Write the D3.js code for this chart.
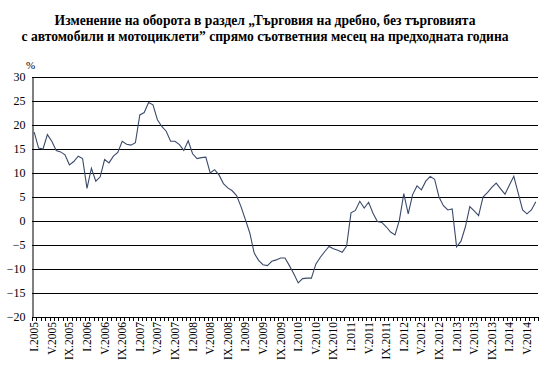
<!DOCTYPE html>
<html>
<head>
<meta charset="utf-8">
<script src="https://cdn.jsdelivr.net/npm/d3@7"></script>
<style>
  body { margin: 0; background: #fff; }
  text { font-family: "Liberation Serif", "Times New Roman", serif; }
</style>
</head>
<body>
<div id="graph"></div>
<script>
var titleLines = [
    "Изменение на оборота в раздел „Търговия на дребно, без търговията",
    "с автомобили и мотоциклети” спрямо съответния месец на предходната година"
];

var romanMonths = ["I", "II", "III", "IV", "V", "VI", "VII", "VIII", "IX", "X", "XI", "XII"];
var years = [2005, 2006, 2007, 2008, 2009, 2010, 2011, 2012, 2013, 2014];
var lastMonthCount = 7; // 2014 goes to VII

var yTicks = [30, 25, 20, 15, 10, 5, 0, -5, -10, -15, -20];

// % change, I.2005 .. VII.2014
var values = [
    18.5, 15.2, 15.0, 18.0, 16.6, 14.7, 14.4, 13.8, 11.7, 12.4, 13.5, 13.0,
    6.8, 11.0, 8.3, 9.2, 12.8, 12.1, 13.5, 14.3, 16.6, 16.0, 15.8, 16.3,
    22.1, 22.6, 24.7, 24.2, 21.1, 19.7, 18.7, 16.6, 16.6, 15.9, 14.7, 16.7,
    14.0, 13.0, 13.2, 13.3, 10.0, 10.7, 9.6, 7.8, 6.9, 6.3, 5.3, 3.0,
    0.3, -2.5, -6.7, -8.2, -9.1, -9.3, -8.4, -8.1, -7.7, -7.7, -9.3, -11.0,
    -12.9, -12.0, -11.9, -11.9, -9.0, -7.6, -6.4, -5.3, -5.8, -6.1, -6.5, -5.2,
    1.7, 2.2, 4.1, 2.7, 3.9, 1.6, -0.1, -0.3, -1.2, -2.3, -2.9, 0.2,
    5.7, 1.5, 5.5, 7.3, 6.5, 8.3, 9.3, 8.7, 5.0, 3.2, 2.3, 2.5,
    -5.4, -4.2, -1.2, 3.0, 2.1, 1.1, 5.0, 5.9, 7.0, 7.9, 6.7, 5.6,
    7.5, 9.3, 5.8, 2.3, 1.5, 2.3, 4.0
];

var months = [];
years.forEach(function(yr, yi) {
    var n = yi == years.length - 1 ? lastMonthCount : 12;
    for (var m = 0; m < n; m++) months.push(romanMonths[m] + "." + yr);
});

var data = months.map(function(m, i) { return {month: m, value: values[i]}; });

var W = 551, H = 368;
var plotL = 32, plotR = 538, plotT = 77, plotB = 317;

var x = d3.scaleBand().domain(months).range([plotL, plotR]);
var y = d3.scaleLinear().domain([-20, 30]).range([plotB, plotT]);

var svg = d3.select("#graph").append("svg")
    .attr("width", W)
    .attr("height", H);

// title
svg.append("g").selectAll("text")
    .data(titleLines)
    .enter().append("text")
    .attr("x", 265)
    .attr("y", function(d, i) { return 25 + i * 16; })
    .attr("text-anchor", "middle")
    .style("font-size", "13.6px")
    .style("font-weight", "bold")
    .text(function(d) { return d; });

// gridlines
svg.append("g").selectAll("line")
    .data(yTicks)
    .enter().append("line")
    .attr("x1", plotL)
    .attr("x2", plotR)
    .attr("y1", function(d) { return Math.round(y(d)) + 0.5; })
    .attr("y2", function(d) { return Math.round(y(d)) + 0.5; })
    .attr("stroke", "#000")
    .attr("stroke-width", 1);

// y axis
var yAxis = d3.axisLeft(y).tickValues(yTicks).tickSize(0).tickPadding(7);
var gy = svg.append("g")
    .attr("transform", "translate(" + (plotL + 0.5) + ",0)")
    .call(yAxis);
gy.select(".domain").attr("stroke", "#000");
gy.selectAll("text")
    .style("font-size", "12px")
    .style("font-family", "Liberation Serif")
    .attr("fill", "#000");

svg.append("text")
    .attr("x", 26)
    .attr("y", 69)
    .style("font-size", "11px")
    .text("%");

// x ticks at band edges
var edges = months.map(function(m) { return x(m); }).concat([plotR]);
svg.append("g").selectAll("line")
    .data(edges)
    .enter().append("line")
    .attr("x1", function(d) { return Math.round(d) + 0.5; })
    .attr("x2", function(d) { return Math.round(d) + 0.5; })
    .attr("y1", plotB)
    .attr("y2", plotB + 4)
    .attr("stroke", "#000");

// x labels every 4 months
var labelMonths = months.filter(function(d, i) { return i % 4 == 0; });
svg.append("g").selectAll("text")
    .data(labelMonths)
    .enter().append("text")
    .attr("transform", function(d) {
        return "translate(" + (x(d) + x.bandwidth() / 2 + 4) + "," + (plotB + 5) + ") rotate(-90)";
    })
    .attr("text-anchor", "end")
    .style("font-size", "11.5px")
    .text(function(d) { return d; });

// line
var line = d3.line()
    .x(function(d) { return x(d.month) + x.bandwidth() / 2; })
    .y(function(d) { return y(d.value); });

svg.append("path")
    .datum(data)
    .attr("d", line)
    .attr("fill", "none")
    .attr("stroke", "#3b4a6b")
    .attr("stroke-width", 1.1);
</script>
</body>
</html>
